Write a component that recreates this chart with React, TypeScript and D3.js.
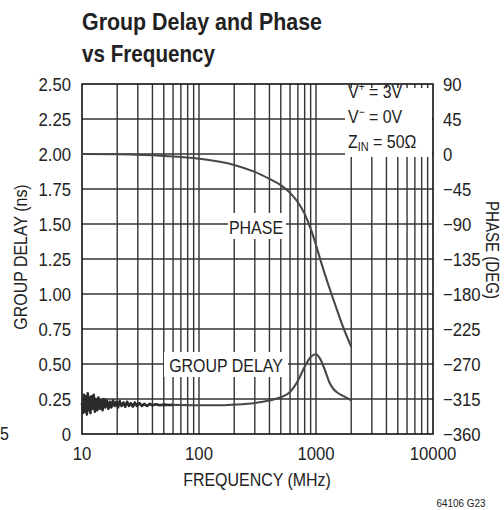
import * as d3 from "d3";
import type { ReactNode } from "react";

// frequency axis (MHz)
const freqTicks = [10, 100, 1000, 10000];
const freqGrid = [
  20, 30, 40, 50, 60, 70, 80, 90, 100,
  200, 300, 400, 500, 600, 700, 800, 900, 1000,
  2000, 3000, 4000, 5000, 6000, 7000, 8000, 9000,
];
const delayTicks = [0, 0.25, 0.5, 0.75, 1.0, 1.25, 1.5, 1.75, 2.0, 2.25, 2.5];
const delayLabels = ["0", "0.25", "0.50", "0.75", "1.00", "1.25", "1.50", "1.75", "2.00", "2.25", "2.50"];
const phaseTicks = [90, 45, 0, -45, -90, -135, -180, -225, -270, -315, -360];

// group delay, noisy low-frequency part (MHz, ns)
const gdNoiseFreq = [
  10, 10.2, 10.4, 10.6, 10.8, 11, 11.2, 11.4, 11.6, 11.8, 12, 12.3, 12.6, 12.9, 13.2, 13.5,
  13.8, 14.2, 14.6, 15, 15.4, 15.8, 16.3, 16.8, 17.3, 17.8, 18.4, 19, 19.6, 20.3, 21, 21.8,
  22.6, 23.4, 24.3, 25.2, 26.2, 27.2, 28.3, 29.5, 31, 32.5, 34, 36, 38, 40, 43, 46, 50, 55, 60,
];
const gdNoiseVal = [
  0.22, 0.15, 0.28, 0.16, 0.27, 0.14, 0.29, 0.17, 0.26, 0.15, 0.27, 0.18, 0.28, 0.16, 0.25, 0.17,
  0.26, 0.18, 0.24, 0.17, 0.25, 0.19, 0.24, 0.18, 0.23, 0.19, 0.24, 0.2, 0.23, 0.19, 0.235, 0.2,
  0.225, 0.195, 0.23, 0.2, 0.22, 0.195, 0.225, 0.2, 0.22, 0.2, 0.215, 0.2, 0.215, 0.205, 0.212,
  0.205, 0.21, 0.207, 0.208,
];
// group delay, smooth part
const gdFreq = [60, 70, 100, 150, 200, 300, 400, 500, 600, 700, 800, 900, 1000, 1080, 1200, 1300, 1400, 1500, 1650, 1800, 2000];
const gdVal = [0.208, 0.207, 0.205, 0.205, 0.21, 0.222, 0.24, 0.262, 0.3, 0.38, 0.48, 0.55, 0.57, 0.54, 0.45, 0.37, 0.325, 0.3, 0.278, 0.262, 0.24];

// phase (deg)
const phFreq = [10, 20, 50, 100, 200, 300, 400, 500, 600, 700, 800, 900, 1000, 1100, 1300, 1500, 1700, 2000];
const phVal = [0, -0.4, -2.5, -6, -14, -23, -32, -40, -50, -62, -77, -96, -117, -138, -172, -199, -222, -248];

const FONT = '"Liberation Sans", Arial, sans-serif';
const INK = "#222";

// condensed text: Liberation Sans squeezed horizontally
function T({
  x,
  y,
  size = 19,
  anchor = "start",
  rotate = 0,
  sx = 0.84,
  children,
}: {
  x: number;
  y: number;
  size?: number;
  anchor?: string;
  rotate?: number;
  sx?: number;
  children: ReactNode;
}) {
  return (
    <text
      transform={`translate(${x},${y}) rotate(${rotate}) scale(${sx},1)`}
      fontSize={size}
      fill={INK}
      textAnchor={anchor}
    >
      {children}
    </text>
  );
}

export default function App() {
  const x = d3.scaleLog().domain([10, 10000]).range([82, 433]);
  const yD = d3.scaleLinear().domain([0, 2.5]).range([434, 84]);
  const yP = d3.scaleLinear().domain([-360, 90]).range([434, 84]);

  const lineD = d3.line<[number, number]>().x((d) => x(d[0])).y((d) => yD(d[1]));
  const noisePath = lineD(gdNoiseFreq.map((f, i) => [f, gdNoiseVal[i]]));
  const gdPath = lineD.curve(d3.curveMonotoneX)(gdFreq.map((f, i) => [f, gdVal[i]]));
  const phPath = d3
    .line<[number, number]>()
    .x((d) => x(d[0]))
    .y((d) => yP(d[1]))
    .curve(d3.curveMonotoneX)(phFreq.map((f, i) => [f, phVal[i]]));

  const gridColor = "#333";
  const curveColor = "#474747";

  return (
    <svg
      width={504}
      height={510}
      style={{ position: "absolute", left: 0, top: 0, background: "#fff", fontFamily: FONT }}
    >
      <text x={82} y={30} fontSize={24} fontWeight="bold" fill={INK} textLength={240} lengthAdjust="spacingAndGlyphs">
        Group Delay and Phase
      </text>
      <text x={82} y={62} fontSize={24} fontWeight="bold" fill={INK} textLength={133} lengthAdjust="spacingAndGlyphs">
        vs Frequency
      </text>

      {/* grid */}
      <g stroke={gridColor} strokeWidth={1.4}>
        {freqGrid.map((f) => (
          <line key={f} x1={x(f)} x2={x(f)} y1={84} y2={434} />
        ))}
        {delayTicks.slice(1, -1).map((t) => (
          <line key={t} x1={82} x2={433} y1={yD(t)} y2={yD(t)} />
        ))}
      </g>

      {/* label backgrounds */}
      <rect x={345} y={88} width={87} height={69} fill="#fff" />
      <rect x={228} y={213} width={58} height={26} fill="#fff" />
      <rect x={164} y={352} width={124} height={25} fill="#fff" />

      <rect x={82} y={84} width={351} height={350} fill="none" stroke="#111" strokeWidth={1.6} />

      {/* curves */}
      <path d={noisePath ?? ""} fill="none" stroke="#2a2a2a" strokeWidth={2.6} strokeLinejoin="round" />
      <path d={gdPath ?? ""} fill="none" stroke={curveColor} strokeWidth={2.1} />
      <path d={phPath ?? ""} fill="none" stroke={curveColor} strokeWidth={2.1} />

      {/* curve labels */}
      <T x={256} y={234} anchor="middle">PHASE</T>
      <T x={226} y={372} anchor="middle">GROUP DELAY</T>

      {/* legend */}
      <T x={348} y={98}>
        V<tspan fontSize={12} dy={-7}>+</tspan>
        <tspan dy={7}> = 3V</tspan>
      </T>
      <T x={348} y={123}>
        V<tspan fontSize={12} dy={-7}>−</tspan>
        <tspan dy={7}> = 0V</tspan>
      </T>
      <T x={348} y={148}>
        Z<tspan fontSize={13} dy={3}>IN</tspan>
        <tspan dy={-3}> = 50Ω</tspan>
      </T>

      {/* left axis labels */}
      {delayTicks.map((t, i) => (
        <T key={t} x={71} y={yD(t) + 7} anchor="end" sx={0.88}>
          {delayLabels[i]}
        </T>
      ))}
      {/* right axis labels */}
      {phaseTicks.map((t) => (
        <T key={t} x={443} y={yP(t) + 7} sx={0.88}>
          {t < 0 ? `−${-t}` : `${t}`}
        </T>
      ))}
      {/* bottom axis labels */}
      {freqTicks.map((f) => (
        <T key={f} x={x(f)} y={460} anchor="middle" sx={0.88}>
          {f}
        </T>
      ))}

      <T x={257} y={486} anchor="middle">FREQUENCY (MHz)</T>
      <T x={27} y={257} anchor="middle" rotate={-90}>GROUP DELAY (ns)</T>
      <T x={486} y={250} anchor="middle" rotate={90} size={18}>PHASE (DEG)</T>
      <T x={0} y={440}>5</T>
      <T x={461} y={507} anchor="middle" size={11} sx={0.9}>64106 G23</T>
    </svg>
  );
}
